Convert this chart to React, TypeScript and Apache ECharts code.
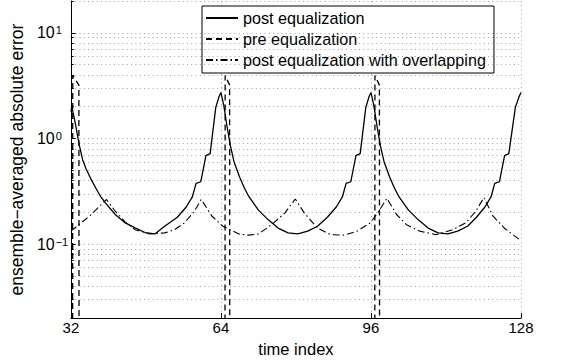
import React, { useEffect, useRef } from "react";
import * as echarts from "echarts";

// ---------- data ----------
const seriesNames = [
  "post equalization",
  "pre equalization",
  "post equalization with overlapping",
];

const xTicks = [32, 64, 96, 128];

// post equalization (solid)
const postEqX = [
  32, 32.2, 33.0, 33.75, 34.5, 35.2, 36.2, 37.3, 38.4, 39.4, 41.5, 43.6, 45.7, 47.8, 49.9,
  52.0, 54.7, 56.6, 57.9, 58.7, 59.7, 60.8, 61.7, 62.9, 63.6, 64,
  64.6, 65.3, 66.0, 66.8, 68.0, 69.0, 70.0, 72.0, 74.1, 76.2, 78.3, 80.4, 82.5, 84.6,
  86.7, 88.6, 89.9, 90.7, 91.7, 92.8, 93.7, 94.9, 95.6, 96,
  96.6, 97.3, 98.0, 98.8, 100.0, 101.0, 102.0, 104.0, 106.1, 108.2, 110.3, 112.4, 114.5, 116.6,
  118.5, 120.3, 121.6, 122.4, 123.4, 124.5, 125.4, 126.8, 127.6, 128,
];
const postEqY = [
  1.8, 2.0, 1.35, 0.88, 0.63, 0.52, 0.42, 0.34, 0.28, 0.245, 0.19, 0.159, 0.143, 0.129, 0.125,
  0.148, 0.18, 0.225, 0.28, 0.376, 0.39, 0.69, 0.72, 1.97, 2.5, 2.72,
  2.07, 1.3, 0.86, 0.6, 0.43, 0.34, 0.28, 0.21, 0.17, 0.142, 0.128, 0.125, 0.133, 0.148,
  0.18, 0.225, 0.28, 0.376, 0.39, 0.69, 0.72, 1.97, 2.5, 2.72,
  2.07, 1.3, 0.86, 0.6, 0.43, 0.34, 0.28, 0.21, 0.17, 0.142, 0.128, 0.125, 0.133, 0.148,
  0.18, 0.225, 0.28, 0.376, 0.39, 0.69, 0.72, 1.97, 2.5, 2.72,
];

// pre equalization (dashed): spikes at block boundaries, otherwise below the axis
const preEqX = [32, 32.35, 32.4, 33.7, 33.75, 64.85, 64.9, 65.85, 65.9, 96.8, 96.85, 97.8, 97.85, 128];
const preEqY = [0.0005, 0.0005, 3.95, 3.2, 0.0005, 0.0005, 3.95, 3.2, 0.0005, 0.0005, 3.95, 3.2, 0.0005, 0.0005];

// post equalization with overlapping (dash-dot)
const overlapX = [
  32, 36, 39.6, 41.5, 43.6, 45.7, 48.8, 52, 54.1, 56.2, 58.3, 59.8, 62.1, 64.4, 67.8, 69.9, 72,
  74.8, 77.6, 79.85, 81.8, 84.6, 87.4, 90.25, 93.05, 95.85, 97.5, 99.4, 101.5, 103.6, 106.4,
  109.9, 113.4, 116.2, 118.3, 120.1, 122, 124.6, 128,
];
const overlapY = [
  0.133, 0.185, 0.265, 0.204, 0.162, 0.137, 0.125, 0.128, 0.137, 0.159, 0.204, 0.265, 0.184,
  0.148, 0.125, 0.122, 0.125, 0.153, 0.197, 0.268, 0.197, 0.142, 0.123, 0.122, 0.133, 0.159,
  0.2, 0.272, 0.19, 0.153, 0.133, 0.123, 0.137, 0.159, 0.204, 0.276, 0.185, 0.14, 0.108,
];

// log-scale grid lines (2..9 x decades) and minor ticks
const yGridValues = [
  0.03, 0.04, 0.05, 0.06, 0.07, 0.08, 0.09, 0.1,
  0.2, 0.3, 0.4, 0.5, 0.6, 0.7, 0.8, 0.9, 1,
  2, 3, 4, 5, 6, 7, 8, 9, 10, 20,
];
const yMinorTicks = [
  0.03, 0.04, 0.05, 0.06, 0.07, 0.08, 0.09,
  0.2, 0.3, 0.4, 0.5, 0.6, 0.7, 0.8, 0.9,
  2, 3, 4, 5, 6, 7, 8, 9, 20,
];

const FONT = "Liberation Sans, Arial, Helvetica, sans-serif";

const zip = (xs: number[], ys: number[]) => xs.map((x, i) => [x, ys[i]]);

export default function App() {
  const ref = useRef<HTMLDivElement>(null);

  useEffect(() => {
    if (!ref.current) return;
    const chart = echarts.init(ref.current, undefined, { renderer: "svg" });

    const gridStyle = { type: [1, 3.3] as any, color: "#777", width: 0.7 };

    const option: any = {
      animation: false,
      backgroundColor: "#fff",
      grid: { left: 65, right: 40, top: 1, bottom: 41, containLabel: false },
      legend: {
        data: seriesNames,
        orient: "vertical",
        left: 202,
        top: 6,
        itemWidth: 32,
        itemHeight: 14,
        itemGap: 5,
        selectedMode: false,
        backgroundColor: "#fff",
        borderColor: "#000",
        borderWidth: 1,
        borderRadius: 0,
        padding: [4, 8, 5, 3],
        itemStyle: { opacity: 0, color: "rgba(0,0,0,0)", borderWidth: 0 },
        textStyle: { fontFamily: FONT, fontSize: 16.2, color: "#000", lineHeight: 16 },
      },
      xAxis: {
        type: "value",
        min: 32,
        max: 128,
        interval: 32,
        axisLine: { lineStyle: { color: "#000", width: 1 } },
        axisTick: { inside: true, length: 5, lineStyle: { color: "#000" } },
        axisLabel: { fontFamily: FONT, fontSize: 15, color: "#000", margin: 2 },
        splitLine: { show: true, lineStyle: gridStyle },
        name: "time index",
        nameLocation: "middle",
        nameGap: 21,
        nameTextStyle: { fontFamily: FONT, fontSize: 16.5, color: "#000" },
      },
      yAxis: {
        type: "log",
        logBase: 10,
        min: 0.02,
        max: 20,
        splitNumber: 3,
        axisLine: { show: true, lineStyle: { color: "#000", width: 1 } },
        axisTick: { show: true, inside: true, length: 5, lineStyle: { color: "#000" } },
        axisLabel: {
          showMinLabel: false,
          showMaxLabel: false,
          align: "left",
          margin: 34,
          formatter: (v: number) => {
            const l = Math.log10(v);
            const e = Math.round(l);
            if (Math.abs(l - e) > 1e-6) return "";
            return "{b|10}{s|" + (e < 0 ? "\u2212" + -e : String(e)) + "}";
          },
          rich: {
            b: {
              fontFamily: FONT,
              fontSize: 16,
              color: "#000",
              lineHeight: 16,
              padding: [4, 0, 0, 0],
              verticalAlign: "bottom",
            },
            s: {
              fontFamily: FONT,
              fontSize: 11,
              color: "#000",
              lineHeight: 12,
              padding: [0, 0, 0, 1],
              verticalAlign: "top",
            },
          },
        },
        splitLine: { show: false },
        name: "ensemble\u2212averaged absolute error",
        nameLocation: "middle",
        nameGap: 36,
        nameTextStyle: { fontFamily: FONT, fontSize: 17.5, color: "#000" },
      },
      series: [
        {
          name: "_grid",
          type: "line",
          data: [[32, 1]],
          symbol: "none",
          silent: true,
          z: 1,
          lineStyle: { opacity: 0 },
          markLine: {
            silent: true,
            symbol: "none",
            label: { show: false },
            lineStyle: gridStyle,
            data: yGridValues.map((v) => ({ yAxis: v })),
          },
        },
        {
          name: "_minorTicks",
          type: "line",
          data: [[32, 1]],
          symbol: "none",
          silent: true,
          z: 3,
          lineStyle: { opacity: 0 },
          markLine: {
            silent: true,
            symbol: "none",
            label: { show: false },
            lineStyle: { type: "solid", color: "#000", width: 1 },
            data: yMinorTicks.map((v) => [{ coord: [32, v] }, { coord: [32.6, v] }]),
          },
        },
        {
          name: seriesNames[0],
          type: "line",
          data: zip(postEqX, postEqY),
          symbol: "none",
          z: 5,
          lineStyle: { color: "#000", width: 1.3, type: "solid" },
          itemStyle: { color: "#000" },
        },
        {
          name: seriesNames[1],
          type: "line",
          data: zip(preEqX, preEqY),
          symbol: "none",
          z: 5,
          lineStyle: { color: "#000", width: 1.3, type: [6, 4] },
          itemStyle: { color: "#000" },
        },
        {
          name: seriesNames[2],
          type: "line",
          data: zip(overlapX, overlapY),
          symbol: "none",
          z: 5,
          lineStyle: { color: "#000", width: 1.1, type: [7, 3, 1.5, 3] },
          itemStyle: { color: "#000" },
        },
      ],
    };

    chart.setOption(option);
    return () => chart.dispose();
  }, []);

  return (
    <div
      ref={ref}
      style={{ width: 561, height: 362, position: "absolute", left: 0, top: 0, background: "#fff" }}
    />
  );
}
